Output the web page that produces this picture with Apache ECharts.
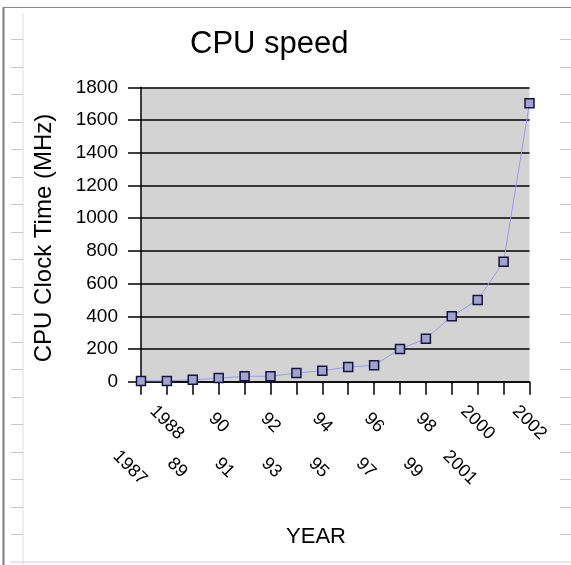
<!DOCTYPE html>
<html>
<head>
<meta charset="utf-8">
<script src="https://cdn.jsdelivr.net/npm/echarts@6/dist/echarts.min.js"></script>
<style>
html,body{margin:0;padding:0;background:#fff;}
#chart{width:571px;height:565px;}
</style>
</head>
<body>
<div id="chart"></div>
<script>
// Data
var tickLabels = ['1987','1988','89','90','91','92','93','94','95','96','97','98','99','2000','2001','2002'];
var cpuSpeed = [5, 5, 12, 22, 33, 33, 53, 67, 90, 100, 200, 263, 400, 500, 733, 1702];
var yTicks = { min: 0, max: 1800, interval: 200 };
var titleText = 'CPU speed';
var yName = 'CPU Clock Time (MHz)';
var xName = 'YEAR';

var FONT = '"Liberation Sans", Arial, sans-serif';
var chart = echarts.init(document.getElementById('chart'), null, {renderer: 'canvas'});

// decorative spreadsheet frame
var frame = [];
frame.push({type:'line', shape:{x1:3.5,y1:7,x2:3.5,y2:565}, style:{stroke:'#7d7d7d', lineWidth:2}, silent:true});
frame.push({type:'line', shape:{x1:3,y1:7.5,x2:571,y2:7.5}, style:{stroke:'#8a8a8a', lineWidth:1}, silent:true});
frame.push({type:'line', shape:{x1:23,y1:13,x2:23,y2:565}, style:{stroke:'#dedede', lineWidth:1}, silent:true});
frame.push({type:'line', shape:{x1:10,y1:562,x2:571,y2:562}, style:{stroke:'#cfcfcf', lineWidth:1}, silent:true});
for (var k = 0; k < 19; k++) {
  var yy = Math.round(39 + k * 27.5) + 0.5;
  frame.push({type:'line', shape:{x1:11,y1:yy,x2:23,y2:yy}, style:{stroke:'#c8c8c8', lineWidth:1}, silent:true});
  frame.push({type:'line', shape:{x1:560,y1:yy,x2:571,y2:yy}, style:{stroke:'#c8c8c8', lineWidth:1}, silent:true});
}
frame.push({type:'text', x:44, y:238, rotation:Math.PI/2,
  style:{text:yName, font:'24px ' + FONT, fill:'#000', align:'center', verticalAlign:'middle'}});
frame.push({type:'text', x:316, y:537,
  style:{text:xName, font:'22px ' + FONT, fill:'#000', align:'center', verticalAlign:'middle'}});

var option = {
  backgroundColor: '#fff',
  animation: false,
  title: {
    text: titleText,
    left: 185, top: 24,
    textStyle: {fontFamily: FONT, fontSize: 31, fontWeight: 'normal', color: '#000'}
  },
  grid: [
    {left: 141, right: 41.5, top: 87.3, bottom: 183.3, show: true,
     backgroundColor: '#d3d3d3', borderWidth: 0, outerBoundsMode: 'none'},
    {left: 130, right: 87.4, top: 87.3, bottom: 183.3, show: false, outerBoundsMode: 'none'}
  ],
  xAxis: [
    {
      type: 'category', gridIndex: 0, data: tickLabels, boundaryGap: false,
      axisLine: {show: true, lineStyle: {color: '#000', width: 1.5}},
      axisTick: {show: true, length: 13, inside: false, interval: 0, lineStyle: {color: '#000', width: 1.5}},
      axisLabel: {
        interval: function (idx) { return idx % 2 === 1; },
        rotate: -45, margin: 41, align: 'center', verticalAlign: 'middle',
        fontFamily: FONT, fontSize: 18, color: '#000'
      },
      splitLine: {show: false}
    },
    {
      type: 'category', gridIndex: 1, data: tickLabels, boundaryGap: false,
      axisLine: {show: false}, axisTick: {show: false},
      axisLabel: {
        interval: function (idx) { return idx % 2 === 0; },
        rotate: -45, margin: 86, align: 'center', verticalAlign: 'middle',
        fontFamily: FONT, fontSize: 18, color: '#000'
      },
      splitLine: {show: false}
    }
  ],
  yAxis: [
    {
      type: 'value', gridIndex: 0, min: yTicks.min, max: yTicks.max, interval: yTicks.interval,
      axisLine: {show: true, lineStyle: {color: '#000', width: 1.5}},
      axisTick: {show: true, length: 13, lineStyle: {color: '#000', width: 1.5}},
      axisLabel: {margin: 23, fontFamily: FONT, fontSize: 19, color: '#000',
        formatter: function (v) { return String(v); }},
      splitLine: {show: true, lineStyle: {color: '#000', width: 1.5}}
    },
    {
      type: 'value', gridIndex: 1, min: 0, max: 1, show: false
    }
  ],
  series: [{
    type: 'line', xAxisIndex: 0, yAxisIndex: 0,
    data: cpuSpeed,
    symbol: 'rect', symbolSize: 9,
    lineStyle: {color: '#9a9af0', width: 1},
    itemStyle: {color: '#a3a3cf', borderColor: '#14143c', borderWidth: 1.5},
    z: 5
  }],
  graphic: frame
};
chart.setOption(option);
</script>
</body>
</html>
